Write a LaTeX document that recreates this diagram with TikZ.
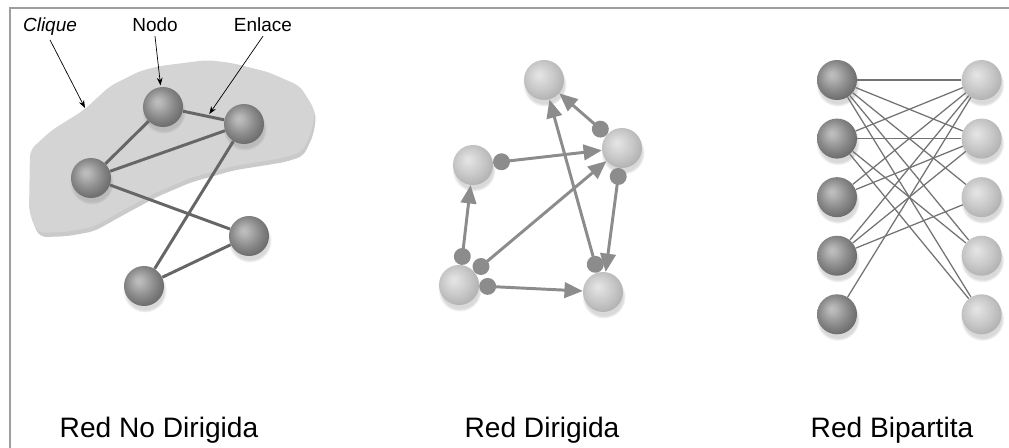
\documentclass[tikz,border=0pt]{standalone}
\usepackage{fontspec}
\setmainfont{Liberation Sans}
\usetikzlibrary{positioning, arrows.meta, shadows}

% sphere shadings (dark and light)
\pgfdeclareradialshading{darksphere}{\pgfpoint{-7bp}{7bp}}{%
  color(0bp)=(black!25); color(5bp)=(black!29); color(18bp)=(black!46); color(32bp)=(black!62); color(50bp)=(black!62)}
\pgfdeclareradialshading{lightsphere}{\pgfpoint{-7bp}{7bp}}{%
  color(0bp)=(black!10); color(5bp)=(black!13); color(18bp)=(black!22); color(32bp)=(black!33); color(50bp)=(black!33)}

\tikzset{
  dark/.style={
    circle, inner sep=0pt,
    minimum size=1cm,
    shade, shading=darksphere,
    circular drop shadow={shadow xshift=0.5pt, shadow yshift=-3pt, opacity=0.3, shadow scale=1.1},
    node distance=0.45cm and 2.6cm
  },
  light/.style={
    dark, shading=lightsphere
  },
  link/.style={ % undirected edges
    line width=2.1pt, black!60
  },
  arc/.style={ % directed edges, dot at the tail
    {Circle[length=12pt]}-{Triangle[length=13pt,width=11pt]},
    line width=2.1pt, black!45
  },
  bip/.style={line width=0.9pt, black!55},
  note/.style={-{Stealth[length=5.5pt,width=4pt]}, line width=0.5pt},
  lbl/.style={font=\fontsize{13.5}{16}\selectfont, anchor=base},
  title/.style={font=\fontsize{20}{24}\selectfont, anchor=base},
}

\begin{document}
\begin{tikzpicture}[x=0.025cm, y=-0.025cm]
		\useasboundingbox (0,0) rectangle (1009,448);
		\draw[black!38, line width=1.4pt] (10,448) -- (10,8) -- (1009,8);
		% clique area
		\fill[black!17, rounded corners=5pt,
		  drop shadow={shadow xshift=1pt, shadow yshift=-3pt, opacity=0.35, fill=black!60}]
		  (38,233) -- (29,212) -- (30,150) -- (52,130) -- (84,110) -- (110,86) -- (140,71)
		  -- (160,66) -- (207,60) -- (232,63) -- (268,72) -- (300,86) -- (315,110)
		  -- (312,131) -- (302,152) -- (283,158) -- (233,166) -- (190,178) -- (157,192)
		  -- (127,208) -- (93,227) -- (66,232) -- cycle;
		\coordinate (cq) at (85,108);
		% undirected network
		\node[dark] (n1) at (163,107) {};
		\node[dark] (n2) at (244,124) {};
		\node[dark] (n3) at (91,178) {};
		\node[dark] (n4) at (249,236) {};
		\node[dark] (n5) at (144,286) {};
		\draw[link] (n1) -- coordinate[pos=0.6] (lk) (n2);
		\draw[link] (n1) -- (n3);
		\draw[link] (n3) -- (n2);
		\draw[link] (n3) -- (n4);
		\draw[link] (n2) -- (n5);
		\draw[link] (n4) -- (n5);
		\node[lbl] (cliq) at (50,31) {\itshape Clique};
		\node[lbl] (nodo) at (155,31) {Nodo};
		\node[lbl] (enl) at (263,31) {Enlace};
		\draw[note] (cliq.south) -- (cq);
		\draw[note, shorten >=1pt] (nodo.south) -- (n1);
		\draw[note, shorten >=2pt] (enl.south) -- (lk);
		% directed network
		\node[light] (d1) at (544,80) {};
		\node[light] (d2) at (622,148) {};
		\node[light] (d3) at (473,165) {};
		\node[light] (d4) at (459,285) {};
		\node[light] (d5) at (603,292) {};
		\draw[arc] (d2) -- (d1);
		\draw[arc] (d3) -- (d2);
		\draw[arc] (d4) -- (d3);
		\draw[arc] (d4) -- (d2);
		\draw[arc] (d4) -- (d5);
		\draw[arc] (d5) -- (d1);
		\draw[arc] (d2) -- (d5);
		% bipartite network
		\node[dark] (l1) at (837,80) {};
		\node[dark, below=of l1] (l2) {};
		\node[dark, below=of l2] (l3) {};
		\node[dark, below=of l3] (l4) {};
		\node[dark, below=of l4] (l5) {};
		\node[light, right=of l1] (r1) {};
		\node[light, below=of r1] (r2) {};
		\node[light, below=of r2] (r3) {};
		\node[light, below=of r3] (r4) {};
		\node[light, below=of r4] (r5) {};
		\foreach \a/\b in {1/1,1/2,1/3,1/4,1/5,2/1,2/2,2/4,2/5,3/1,3/2,4/1,4/2,4/3,5/1}
			\draw[bip] (l\a) -- (r\b);
		% captions
		\node[title] (t1) at (159,437) {Red No Dirigida};
		\node[title] (t2) at (542,437) {Red Dirigida};
		\node[title] (t3) at (892,437) {Red Bipartita};
	\end{tikzpicture}
\end{document}
